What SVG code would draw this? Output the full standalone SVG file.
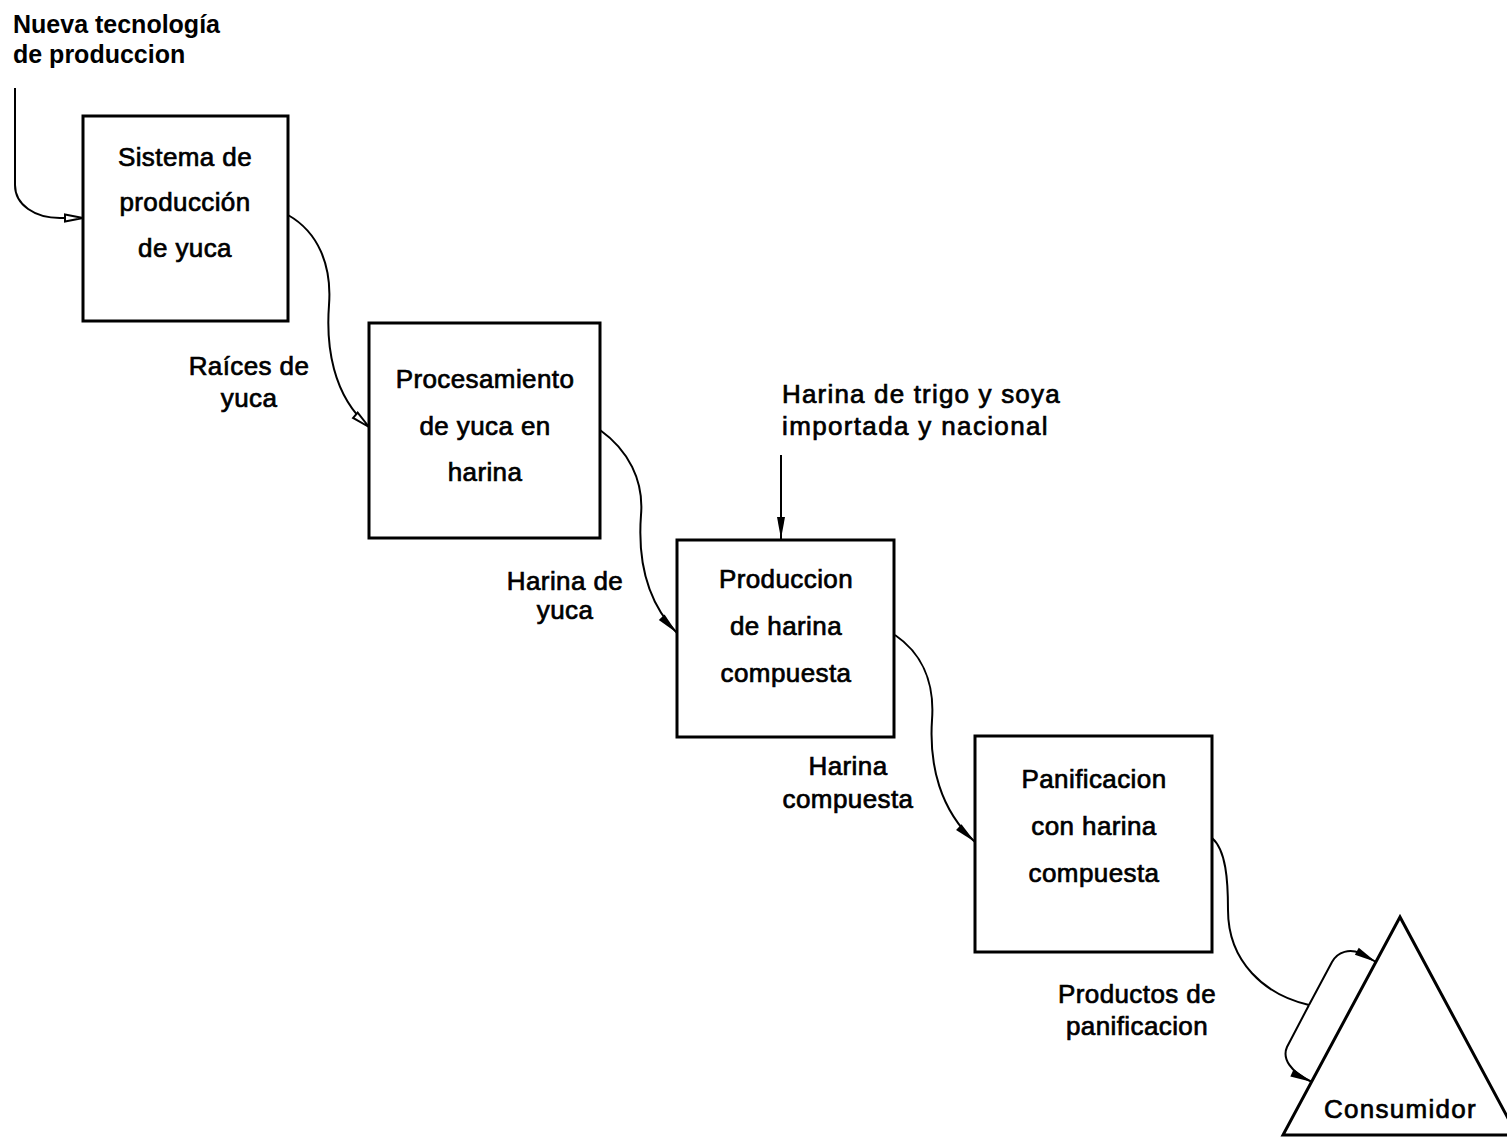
<svg xmlns="http://www.w3.org/2000/svg" width="1507" height="1139" viewBox="0 0 1507 1139">
<style>
text{font-family:"Liberation Sans",Arial,Helvetica,sans-serif;font-size:26px;fill:#000;stroke:#000;stroke-width:0.7;letter-spacing:0.4px}
.c{text-anchor:middle}
.b{font-weight:bold;stroke-width:0;font-size:25px;letter-spacing:0}
.box{fill:#fff;stroke:#000;stroke-width:3}
.con{fill:none;stroke:#000;stroke-width:2}
</style>
<defs>
<marker id="af" markerUnits="userSpaceOnUse" markerWidth="26" markerHeight="12" refX="22" refY="5" orient="auto" overflow="visible">
<path d="M0,1 L22,5 L0,9 Z" fill="#000"/>
</marker>
<marker id="ah" markerUnits="userSpaceOnUse" markerWidth="26" markerHeight="12" refX="20" refY="5" orient="auto" overflow="visible">
<path d="M2,1.5 L20,5 L2,8.5 Z" fill="#fff" stroke="#000" stroke-width="2"/>
</marker>
</defs>
<g id="connectors">
<path class="con" d="M15,88 L15,185 C15,205 35,218 60,218 L83,218" marker-end="url(#ah)"/>
<path class="con" d="M288,215 C318,232 332,265 329,305 C326,345 332,395 369,427" marker-end="url(#ah)"/>
<path class="con" d="M600,430 C628,450 644,480 641,515 C638,555 645,600 677,633" marker-end="url(#af)"/>
<path class="con" d="M781,455 L781,539" marker-end="url(#af)"/>
<path class="con" d="M895,635 C920,652 935,680 932,720 C929,765 940,810 975,842" marker-end="url(#af)"/>
<path class="con" d="M1212,838 C1226,850 1228,880 1228,910 C1228,962 1265,995 1309,1005"/>
<path class="con" d="M1309,1005 L1332,962 C1338,951 1350,949 1360,953 L1376,962" marker-end="url(#af)"/>
<path class="con" d="M1309,1005 L1287,1047 C1282,1058 1290,1072 1312,1082" marker-end="url(#af)"/>
</g>
<g id="label-nueva">
<text class="b" x="13" y="33">Nueva tecnología</text>
<text class="b" x="13" y="63">de produccion</text>
</g>
<g id="node-sistema">
<rect class="box" x="83" y="116" width="205" height="205"/>
<text class="c" x="185" y="166">Sistema de</text>
<text class="c" x="185" y="211">producción</text>
<text class="c" x="185" y="257">de yuca</text>
</g>
<g id="label-raices">
<text class="c" x="249" y="375">Raíces de</text>
<text class="c" x="249" y="407">yuca</text>
</g>
<g id="node-procesamiento">
<rect class="box" x="369" y="323" width="231" height="215"/>
<text class="c" x="485" y="388">Procesamiento</text>
<text class="c" x="485" y="435">de yuca en</text>
<text class="c" x="485" y="481">harina</text>
</g>
<g id="label-trigo">
<text x="782" y="403" textLength="278" lengthAdjust="spacing">Harina de trigo y soya</text>
<text x="782" y="435" textLength="266" lengthAdjust="spacing">importada y nacional</text>
</g>
<g id="label-harina-yuca">
<text class="c" x="565" y="590">Harina de</text>
<text class="c" x="565" y="619">yuca</text>
</g>
<g id="node-produccion">
<rect class="box" x="677" y="540" width="217" height="197"/>
<text class="c" x="786" y="588">Produccion</text>
<text class="c" x="786" y="635">de harina</text>
<text class="c" x="786" y="682">compuesta</text>
</g>
<g id="label-harina-compuesta">
<text class="c" x="848" y="775">Harina</text>
<text class="c" x="848" y="808">compuesta</text>
</g>
<g id="node-panificacion">
<rect class="box" x="975" y="736" width="237" height="216"/>
<text class="c" x="1094" y="788">Panificacion</text>
<text class="c" x="1094" y="835">con harina</text>
<text class="c" x="1094" y="882">compuesta</text>
</g>
<g id="label-productos">
<text class="c" x="1137" y="1003">Productos de</text>
<text class="c" x="1137" y="1035">panificacion</text>
</g>
<g id="node-consumidor">
<polygon points="1400,917 1283,1135 1517,1135" fill="#fff" stroke="#000" stroke-width="3"/>
<text class="c" x="1400" y="1118" textLength="152" lengthAdjust="spacing">Consumidor</text>
</g>
</svg>
